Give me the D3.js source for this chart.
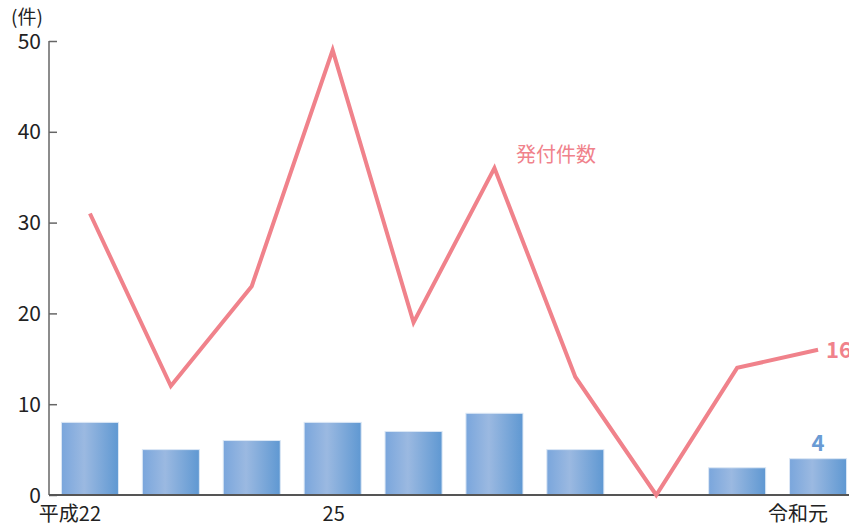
<!DOCTYPE html>
<html><head><meta charset="utf-8">
<script src="https://cdn.jsdelivr.net/npm/d3@7"></script>
<style>
body{margin:0;background:#fff;}
text{font-family:"Noto Sans CJK JP","Noto Sans",sans-serif;}
</style></head>
<body><svg id="c" width="849" height="527"></svg>
<script>
const categories = ["平成22","23","24","25","26","27","28","29","30","令和元"];
const tickLabels = ["平成22","","","25","","","","","","令和元"];
const issued = [31,12,23,49,19,36,13,0,14,16];
const bars = [8,5,6,8,7,9,5,0,3,4];
const yTicks = [0,10,20,30,40,50];

const svg = d3.select("#c");
const x = d3.scaleBand().domain(categories).range([49.5,858.5]).paddingInner(0.295).paddingOuter(0.1475);
const y = d3.scaleLinear().domain([0,50]).range([495,41]);

const defs = svg.append("defs");
const g = defs.append("linearGradient").attr("id","bg").attr("x1","0").attr("x2","1").attr("y1","0").attr("y2","0");
g.append("stop").attr("offset","0").attr("stop-color","#7aa6dc");
g.append("stop").attr("offset","0.4").attr("stop-color","#9bb9e1");
g.append("stop").attr("offset","1").attr("stop-color","#5f98d2");

// bars
svg.append("g").selectAll("rect").data(categories.map((c,i)=>({c,v:bars[i]})).filter(d=>d.v>0)).join("rect")
  .attr("x",d=>x(d.c)).attr("width",x.bandwidth())
  .attr("y",d=>y(d.v)).attr("height",d=>y(0)-y(d.v))
  .attr("fill","url(#bg)").attr("stroke","#dbe7f5").attr("stroke-width",1);

// y axis
const ya = svg.append("g").attr("transform","translate(49,0)")
  .call(d3.axisRight(y).tickValues(yTicks).tickSize(8).tickFormat(""));
ya.select(".domain").attr("stroke","#666").attr("stroke-width",1.5).attr("d","M0,41V495");
ya.selectAll(".tick line").attr("stroke","#666").attr("stroke-width",1.5);
svg.append("g").selectAll("text").data(yTicks).join("text")
  .attr("x",41).attr("y",d=>y(d)).attr("dy","0.36em").attr("text-anchor","end")
  .attr("font-size",21).attr("fill","#222").text(d=>d);
svg.append("text").attr("x",27).attr("y",24).attr("text-anchor","middle").attr("font-size",19).attr("fill","#222").text("(件)");

// x axis
const xa = svg.append("g").attr("transform","translate(0,495)")
  .call(d3.axisBottom(x).tickSize(0).tickFormat(""));
xa.select(".domain").attr("stroke","#555").attr("stroke-width",2.2).attr("d","M49,0H849");
svg.append("g").selectAll("text").data(categories).join("text")
  .attr("x",(d,i)=>x(d)+x.bandwidth()/2+((i===0||i===categories.length-1)?-20:1))
  .attr("y",521).attr("text-anchor","middle").attr("font-size",20).attr("fill","#222")
  .text((d,i)=>tickLabels[i]);

// line
const line = d3.line().x((d,i)=>x(categories[i])+x.bandwidth()/2).y(d=>y(d));
svg.append("path").datum(issued).attr("d",line).attr("fill","none")
  .attr("stroke","#f0828b").attr("stroke-width",4).attr("stroke-linejoin","miter");

svg.append("text").attr("x",556).attr("y",162).attr("text-anchor","middle").attr("font-size",20).attr("fill","#f0828b").text("発付件数");
const last = categories.length-1;
svg.append("text").attr("x",x(categories[last])+x.bandwidth()/2+8).attr("y",y(issued[last])).attr("dy","0.36em")
  .attr("font-size",22).attr("font-weight","bold").attr("fill","#f0828b").text(issued[last]);
svg.append("text").attr("x",x(categories[last])+x.bandwidth()/2).attr("y",y(bars[last])-8)
  .attr("text-anchor","middle").attr("font-size",22).attr("font-weight","bold").attr("fill","#6a9bd4").text(bars[last]);
</script></body></html>
